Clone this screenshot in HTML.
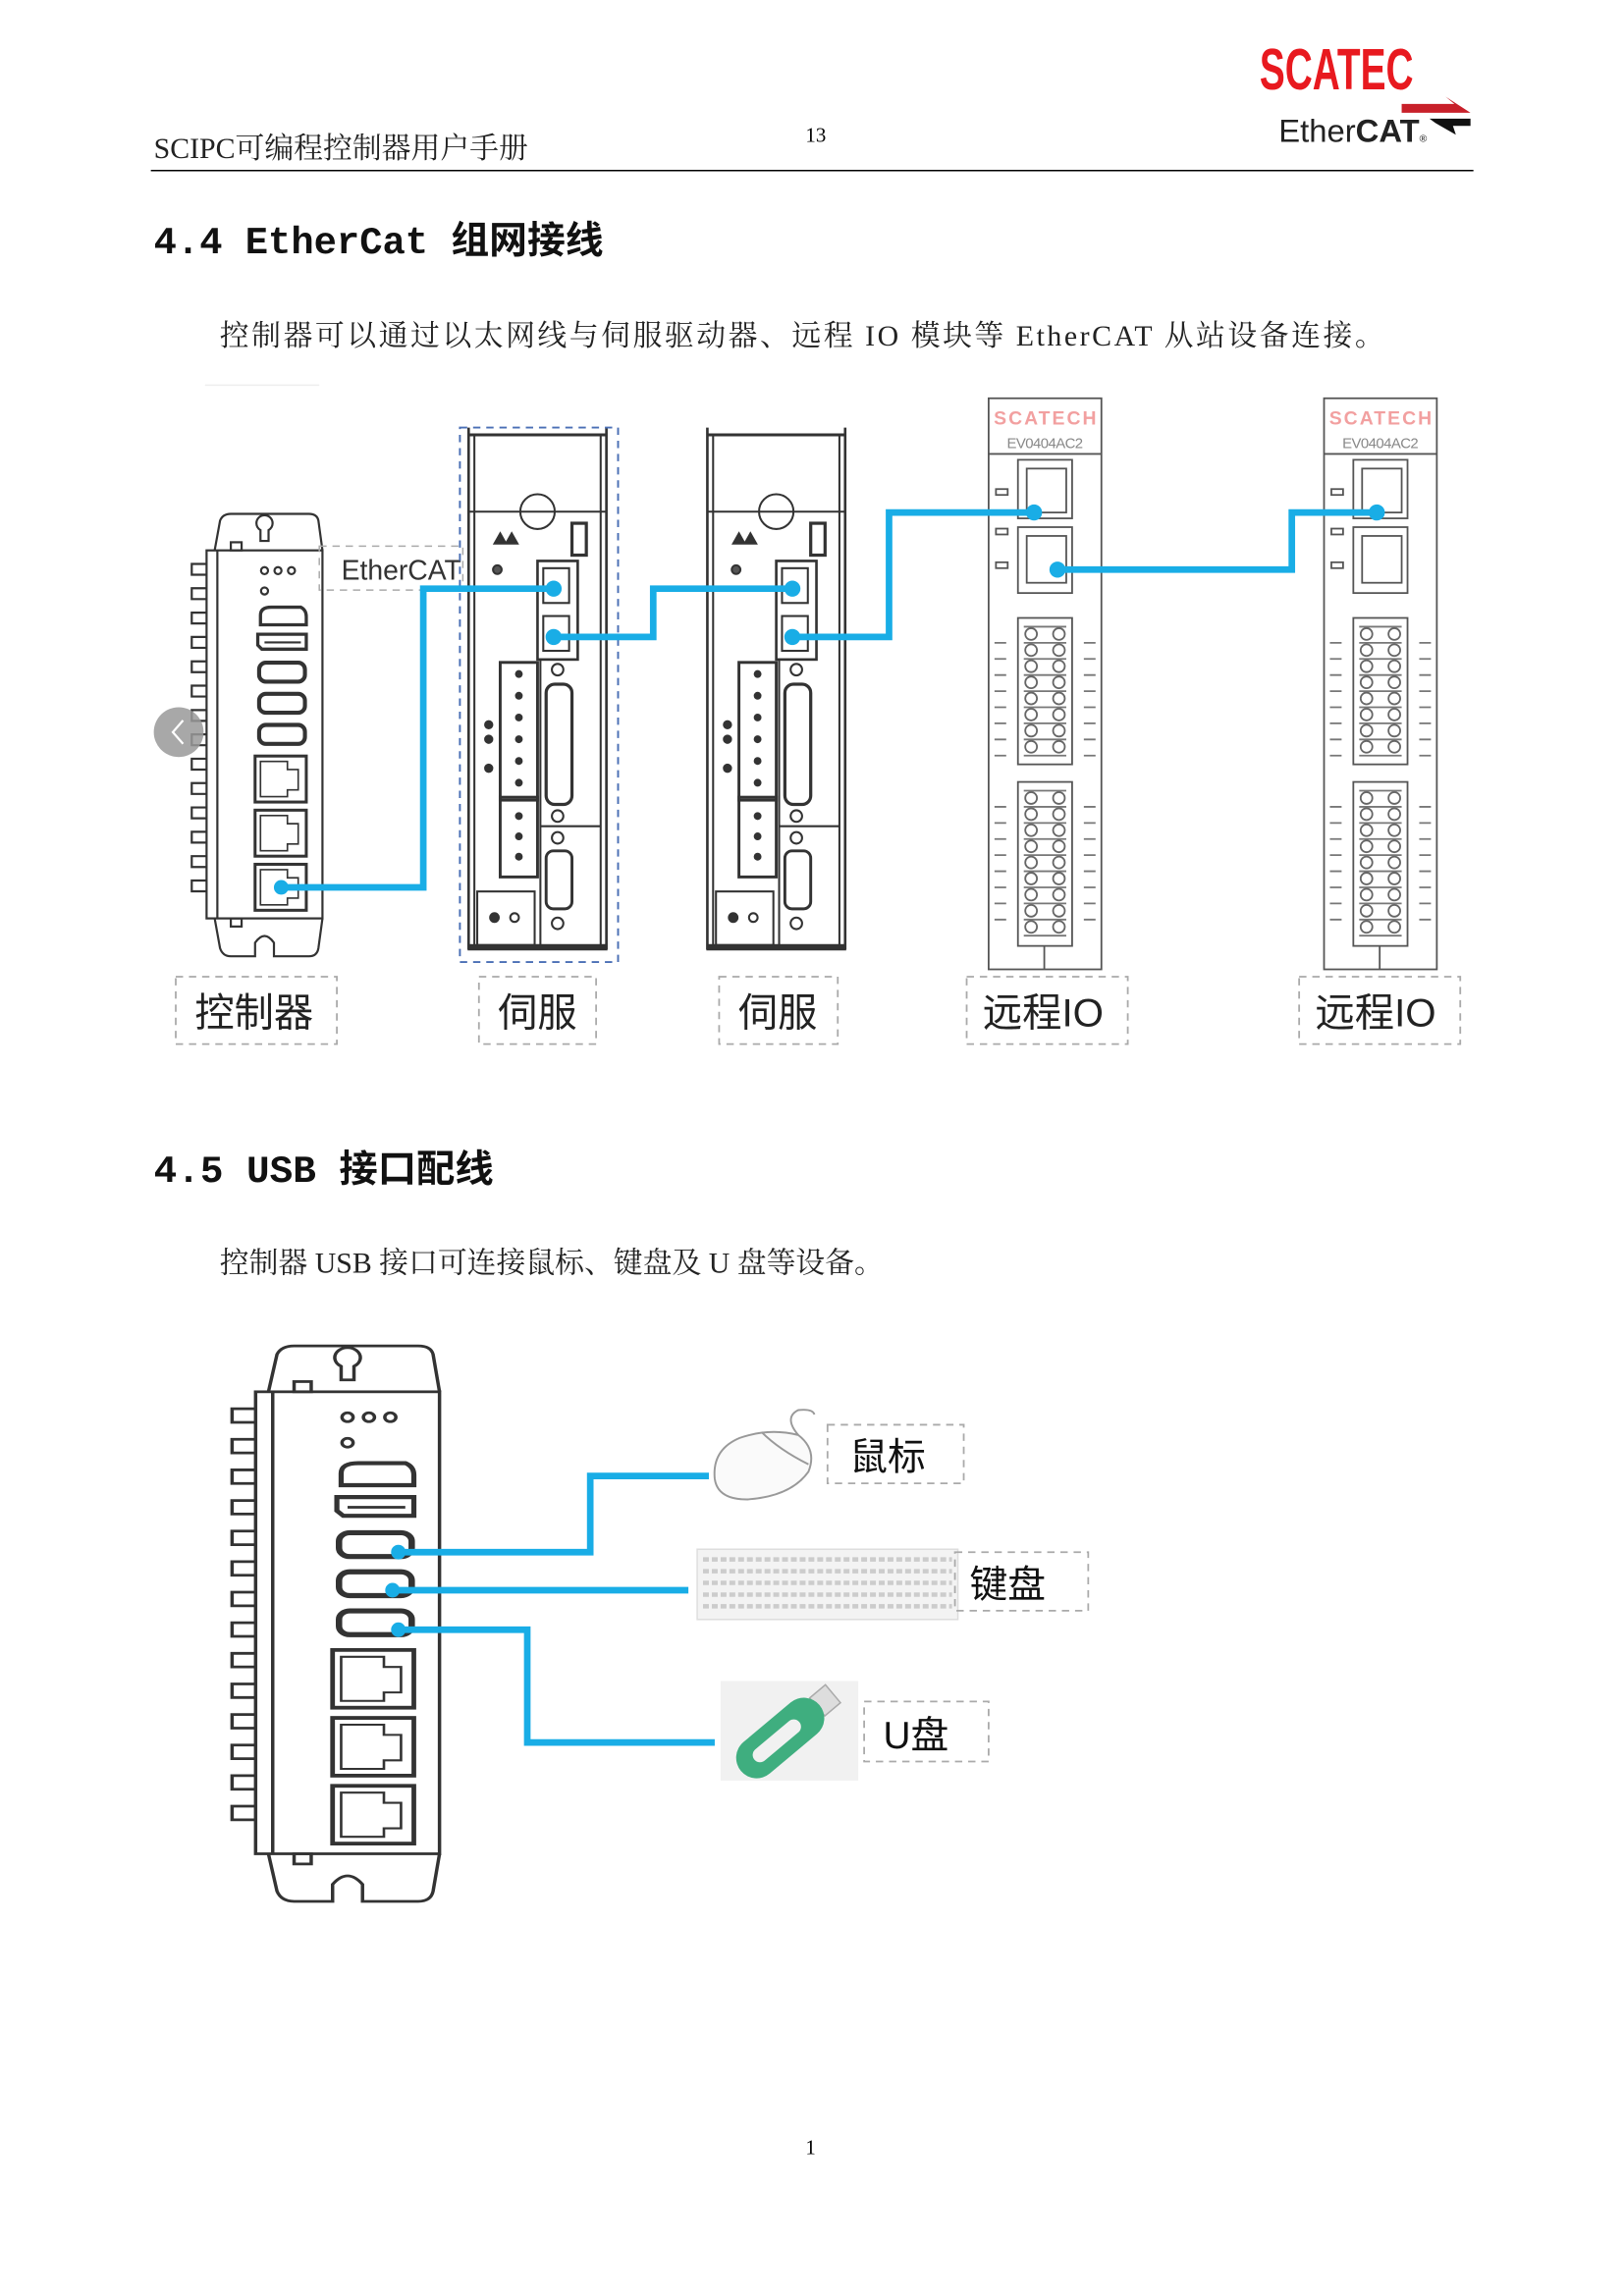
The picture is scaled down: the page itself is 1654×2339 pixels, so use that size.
<!DOCTYPE html>
<html><head><meta charset="utf-8"><style>
html,body{margin:0;padding:0;background:#fff}
svg{display:block}
.serif{font-family:"Liberation Serif","Noto Serif CJK SC",serif}
.sans{font-family:"Liberation Sans","Noto Sans CJK SC",sans-serif}
.mono{font-family:"Liberation Mono","Noto Sans CJK SC",monospace}
</style></head><body>
<svg width="1654" height="2339" viewBox="0 0 1108.8 1568" xmlns="http://www.w3.org/2000/svg">
<defs>
<g id="ctrl" fill="none" stroke="#333" stroke-width="1.6">
  <path d="M12,38 L1,38 L1,46 L12,46 M12,56 L1,56 L1,64 L12,64 M12,74 L1,74 L1,82 L12,82 M12,92 L1,92 L1,100 L12,100 M12,110 L1,110 L1,118 L12,118 M12,128 L1,128 L1,136 L12,136 M12,146 L1,146 L1,154 L12,154 M12,164 L1,164 L1,172 L12,172 M12,182 L1,182 L1,190 L12,190 M12,200 L1,200 L1,208 L12,208 M12,218 L1,218 L1,226 L12,226 M12,236 L1,236 L1,244 L12,244 M12,254 L1,254 L1,262 L12,262 M12,272 L1,272 L1,280 L12,280"/>
  <rect x="12" y="28" width="86" height="272"/>
  <line x1="20" y1="28" x2="20" y2="300"/>
  <path d="M18,28 L22,6 Q24,1 30,1 L88,1 Q94,1 95,6 L98,28"/>
  <path d="M49,8 a6,6 0 1 1 12,0 a6,6 0 0 1 -3,5 l0,8 l-6,0 l0,-8 a6,6 0 0 1 -3,-5z"/>
  <path d="M18,300 L22,322 Q24,328 30,328 L48,328 L48,318 Q55,308 62,318 L62,328 L88,328 Q94,328 95,322 L98,300"/>
  <rect x="30" y="22" width="8" height="6"/><rect x="30" y="300" width="8" height="6"/>
  <circle cx="55" cy="43" r="2.6"/><circle cx="65" cy="43" r="2.6"/><circle cx="75" cy="43" r="2.6"/>
  <circle cx="55" cy="58" r="2.6"/>
  <path d="M52,76 Q52,70 60,70 L82,70 Q86,72 86,77 L86,83 L52,83z" stroke-width="2.4"/>
  <path d="M50,90 L86,90 L86,101 L53,101 L50,98z" stroke-width="2.4"/><line x1="55" y1="96" x2="82" y2="96"/>
  <rect x="51" y="111" width="34" height="14" rx="5" stroke-width="3"/>
  <rect x="51" y="134" width="34" height="14" rx="5" stroke-width="3"/>
  <rect x="51" y="157" width="34" height="14" rx="5" stroke-width="3"/>
  <g stroke-width="2.2">
  <rect x="48" y="180" width="38" height="34"/><path d="M52,184 L72,184 L72,190 L80,190 L80,205 L72,205 L72,210 L52,210z" stroke-width="1.2"/>
  <rect x="48" y="220" width="38" height="34"/><path d="M52,224 L72,224 L72,230 L80,230 L80,245 L72,245 L72,250 L52,250z" stroke-width="1.2"/>
  <rect x="48" y="260" width="38" height="34"/><path d="M52,264 L72,264 L72,270 L80,270 L80,285 L72,285 L72,290 L52,290z" stroke-width="1.2"/>
  </g>
</g>
<g id="servo" fill="none" stroke="#333" stroke-width="1.4">
  <path d="M2,0 L2,360 M98,0 L98,360" stroke-width="1.8"/>
  <line x1="2" y1="5" x2="98" y2="5" stroke-width="2"/>
  <line x1="6" y1="5" x2="6" y2="357"/><line x1="94" y1="5" x2="94" y2="357"/>
  <line x1="2" y1="58" x2="98" y2="58"/>
  <circle cx="50" cy="58" r="12"/>
  <rect x="2" y="357" width="96" height="3" fill="#333"/>
  <rect x="74" y="66" width="10" height="22" stroke-width="2.2"/>
  <path d="M20,80 l4,-7 l4,7z M28,80 l4,-7 l4,7z" fill="#333"/>
  <circle cx="22" cy="98" r="3" fill="#555"/>
  <rect x="50" y="92" width="28" height="68" stroke-width="1.8"/>
  <rect x="54" y="97" width="18" height="24"/><rect x="54" y="130" width="18" height="24"/>
  <rect x="24" y="162" width="26" height="95" stroke-width="2"/>
  <g fill="#333"><circle cx="37" cy="170" r="2"/><circle cx="37" cy="185" r="2"/><circle cx="37" cy="200" r="2"/><circle cx="37" cy="215" r="2"/><circle cx="37" cy="230" r="2"/><circle cx="37" cy="245" r="2"/></g>
  <rect x="24" y="255" width="26" height="55" stroke-width="2"/>
  <g fill="#333"><circle cx="37" cy="268" r="2"/><circle cx="37" cy="282" r="2"/><circle cx="37" cy="296" r="2"/></g>
  <circle cx="64" cy="167" r="4"/>
  <rect x="56" y="177" width="18" height="83" rx="6" stroke-width="2.2"/>
  <circle cx="64" cy="268" r="4"/><line x1="52" y1="275" x2="94" y2="275"/>
  <circle cx="64" cy="283" r="4"/>
  <rect x="56" y="292" width="18" height="40" rx="5" stroke-width="2"/>
  <circle cx="64" cy="342" r="4"/>
  <rect x="8" y="320" width="40" height="37"/>
  <circle cx="20" cy="338" r="3" fill="#333"/><circle cx="34" cy="338" r="3"/>
  <line x1="52" y1="160" x2="52" y2="357"/>
  <g fill="#333"><circle cx="16" cy="205" r="2.5"/><circle cx="16" cy="215" r="2.5"/><circle cx="16" cy="235" r="2.5"/></g>
</g>
<g id="io" fill="none" stroke="#555" stroke-width="1.2">
  <rect x="0" y="0" width="77" height="390"/>
  <line x1="0" y1="38" x2="77" y2="38"/>
  <text x="38.5" y="18" font-family="Liberation Sans,sans-serif" font-weight="bold" font-size="13" fill="#f2a0a0" stroke="none" text-anchor="middle" textLength="70">SCATECH</text>
  <text x="38.5" y="34" font-family="Liberation Sans,sans-serif" font-size="10" fill="#888" stroke="none" text-anchor="middle" textLength="52">EV0404AC2</text>
  <rect x="20" y="42" width="37" height="40"/><rect x="26" y="48" width="27" height="30"/>
  <rect x="20" y="88" width="37" height="45"/><rect x="26" y="94" width="27" height="32"/>
  <rect x="5" y="62" width="8" height="4"/><rect x="5" y="89" width="8" height="4"/><rect x="5" y="112" width="8" height="4"/>
  <rect x="20" y="150" width="37" height="100"/>
  <rect x="20" y="262" width="37" height="112"/>
  <g stroke="#777">
  <path d="M24,156h29M24,167h29M24,178h29M24,189h29M24,200h29M24,211h29M24,222h29M24,233h29M24,244h29"/>
  <path d="M24,268h29M24,279h29M24,290h29M24,301h29M24,312h29M24,323h29M24,334h29M24,345h29M24,356h29M24,367h29"/>
  <path d="M4,167h8M4,178h8M4,189h8M4,200h8M4,211h8M4,222h8M4,233h8M4,244h8M65,167h8M65,178h8M65,189h8M65,200h8M65,211h8M65,222h8M65,233h8M65,244h8"/>
  <path d="M4,279h8M4,290h8M4,301h8M4,312h8M4,323h8M4,334h8M4,345h8M4,356h8M65,279h8M65,290h8M65,301h8M65,312h8M65,323h8M65,334h8M65,345h8M65,356h8"/>
  </g>
  <g stroke="#666">
  <circle cx="29" cy="161" r="4"/><circle cx="48" cy="161" r="4"/><circle cx="29" cy="172" r="4"/><circle cx="48" cy="172" r="4"/><circle cx="29" cy="183" r="4"/><circle cx="48" cy="183" r="4"/><circle cx="29" cy="194" r="4"/><circle cx="48" cy="194" r="4"/><circle cx="29" cy="205" r="4"/><circle cx="48" cy="205" r="4"/><circle cx="29" cy="216" r="4"/><circle cx="48" cy="216" r="4"/><circle cx="29" cy="227" r="4"/><circle cx="48" cy="227" r="4"/><circle cx="29" cy="238" r="4"/><circle cx="48" cy="238" r="4"/>
  <circle cx="29" cy="273" r="4"/><circle cx="48" cy="273" r="4"/><circle cx="29" cy="284" r="4"/><circle cx="48" cy="284" r="4"/><circle cx="29" cy="295" r="4"/><circle cx="48" cy="295" r="4"/><circle cx="29" cy="306" r="4"/><circle cx="48" cy="306" r="4"/><circle cx="29" cy="317" r="4"/><circle cx="48" cy="317" r="4"/><circle cx="29" cy="328" r="4"/><circle cx="48" cy="328" r="4"/><circle cx="29" cy="339" r="4"/><circle cx="48" cy="339" r="4"/><circle cx="29" cy="350" r="4"/><circle cx="48" cy="350" r="4"/><circle cx="29" cy="361" r="4"/><circle cx="48" cy="361" r="4"/>
  </g>
  <line x1="38" y1="374" x2="38" y2="390"/>
</g>
</defs>

<!-- header -->
<text x="105" y="108" class="serif" font-size="20" fill="#222">SCIPC可编程控制器用户手册</text>
<text x="550" y="97" class="serif" font-size="14" fill="#000">13</text>
<line x1="103" y1="116.5" x2="1006" y2="116.5" stroke="#000" stroke-width="1"/>
<text x="860" y="61" font-family="Liberation Sans,sans-serif" font-weight="bold" font-size="40" fill="#e8191f" textLength="105" lengthAdjust="spacingAndGlyphs">SCATEC</text>
<text x="873" y="97" font-family="Liberation Sans,sans-serif" font-size="22" fill="#222">Ether<tspan font-weight="bold">CAT</tspan><tspan font-size="7">®</tspan></text>
<path d="M957,71 L993,71 L987,66 L1004,77 L957,77z" fill="#c8202a"/>
<path d="M976,81 L1004,81 L1004,86 L992,86 L994,92 L980,84z" fill="#111"/>

<!-- 4.4 -->
<text x="105" y="173" class="mono" font-weight="bold" font-size="26" fill="#111" textLength="307" lengthAdjust="spacingAndGlyphs">4.4 EtherCat 组网接线</text>
<text x="150" y="236" class="serif" font-size="20" fill="#222" textLength="795">控制器可以通过以太网线与伺服驱动器、远程 IO 模块等 EtherCAT 从站设备连接。</text>
<line x1="140" y1="263" x2="218" y2="263" stroke="#eee"/>

<!-- diagram 1 -->
<use href="#ctrl" transform="translate(130,350) scale(0.92,0.924)"/>
<circle cx="122" cy="500" r="17" fill="#999" opacity="0.85"/>
<path d="M125,492 l-7,8 l7,8" fill="none" stroke="#fff" stroke-width="1.5"/>
<rect x="218" y="373" width="98" height="30" fill="none" stroke="#aaa" stroke-dasharray="5,4"/>
<text x="233" y="396" class="sans" font-size="19" fill="#333">EtherCAT</text>
<use href="#servo" transform="translate(318,292) scale(0.98,0.99)"/>
<rect x="314" y="292" width="108" height="365" fill="none" stroke="#4a6fb5" stroke-dasharray="5,4" stroke-width="1.3"/>
<use href="#servo" transform="translate(481,292) scale(0.98,0.99)"/>
<use href="#io" transform="translate(675,272)"/>
<use href="#io" transform="translate(904,272)"/>

<g fill="none" stroke="#19ade6" stroke-width="4.5" stroke-linejoin="miter">
<polyline points="192,606 289,606 289,402 378,402"/>
<polyline points="378,435 446,435 446,402 541,402"/>
<polyline points="541,435 607,435 607,350 706,350"/>
<polyline points="722,389 882,389 882,350 940,350"/>
</g>
<g fill="#19ade6">
<circle cx="192" cy="606" r="5"/><circle cx="378" cy="402" r="5.5"/><circle cx="378" cy="435" r="5.5"/>
<circle cx="541" cy="402" r="5.5"/><circle cx="541" cy="435" r="5.5"/><circle cx="706" cy="350" r="5.5"/>
<circle cx="722" cy="389" r="5.5"/><circle cx="940" cy="350" r="5.5"/>
</g>

<g fill="none" stroke="#aaa" stroke-dasharray="5,4" stroke-width="1.2">
<rect x="120" y="667" width="110" height="46"/>
<rect x="327" y="667" width="80" height="46"/>
<rect x="491" y="667" width="81" height="46"/>
<rect x="660" y="667" width="110" height="46"/>
<rect x="887" y="667" width="110" height="46"/>
</g>
<g class="sans" font-size="27" fill="#222">
<text x="133" y="701">控制器</text>
<text x="340" y="701">伺服</text>
<text x="504" y="701">伺服</text>
<text x="671" y="701">远程IO</text>
<text x="898" y="701">远程IO</text>
</g>

<!-- 4.5 -->
<text x="105" y="807" class="mono" font-weight="bold" font-size="26" fill="#111" textLength="232" lengthAdjust="spacingAndGlyphs">4.5 USB 接口配线</text>
<text x="150" y="869" class="serif" font-size="20" fill="#222">控制器 USB 接口可连接鼠标、键盘及 U 盘等设备。</text>

<use href="#ctrl" transform="translate(157,918) scale(1.46,1.16)"/>

<!-- mouse -->
<g fill="none" stroke="#999" stroke-width="1.3">
<path d="M488,1010 Q486,990 505,982 Q525,975 545,980 Q558,990 552,1005 Q540,1022 510,1024 Q490,1024 488,1010z" fill="#fafafa"/>
<path d="M520,978 Q532,990 552,1000"/>
<path d="M545,980 Q535,968 545,963 Q555,962 556,966"/>
</g>
<!-- keyboard -->
<rect x="476" y="1058" width="178" height="48" fill="#f3f3f3" stroke="#ddd"/>
<g fill="none" stroke="#ccc" stroke-width="3" stroke-dasharray="4,2">
<line x1="480" y1="1065" x2="650" y2="1065"/><line x1="480" y1="1073" x2="650" y2="1073"/>
<line x1="480" y1="1081" x2="650" y2="1081"/><line x1="480" y1="1089" x2="650" y2="1089"/>
<line x1="480" y1="1097" x2="650" y2="1097"/>
</g>
<!-- usb stick -->
<rect x="492" y="1148" width="94" height="68" fill="#f1f1f1"/>
<g transform="translate(535,1185) rotate(-40)">
<rect x="30" y="-8" width="14" height="16" fill="#ddd" stroke="#aaa"/>
<rect x="-38" y="-14" width="70" height="28" rx="14" fill="#3fae7f"/>
<rect x="-26" y="-5" width="40" height="10" rx="5" fill="#f1f1f1"/>
</g>

<g fill="none" stroke="#19ade6" stroke-width="4.5">
<polyline points="272,1060 403,1060 403,1008 484,1008"/>
<polyline points="268,1086 470,1086"/>
<polyline points="272,1113 360,1113 360,1190 488,1190"/>
</g>
<g fill="#19ade6"><circle cx="272" cy="1060" r="5"/><circle cx="268" cy="1086" r="5"/><circle cx="272" cy="1113" r="5"/></g>

<g fill="none" stroke="#aaa" stroke-dasharray="5,4" stroke-width="1.2">
<rect x="565" y="973" width="93" height="40"/>
<rect x="652" y="1060" width="91" height="40"/>
<rect x="590" y="1162" width="85" height="41"/>
</g>
<g class="sans" font-size="26" fill="#111">
<text x="580" y="1004">鼠标</text>
<text x="662" y="1091">键盘</text>
<text x="603" y="1194">U盘</text>
</g>

<text x="550" y="1471" class="serif" font-size="14" fill="#000">1</text>
</svg>
</body></html>
